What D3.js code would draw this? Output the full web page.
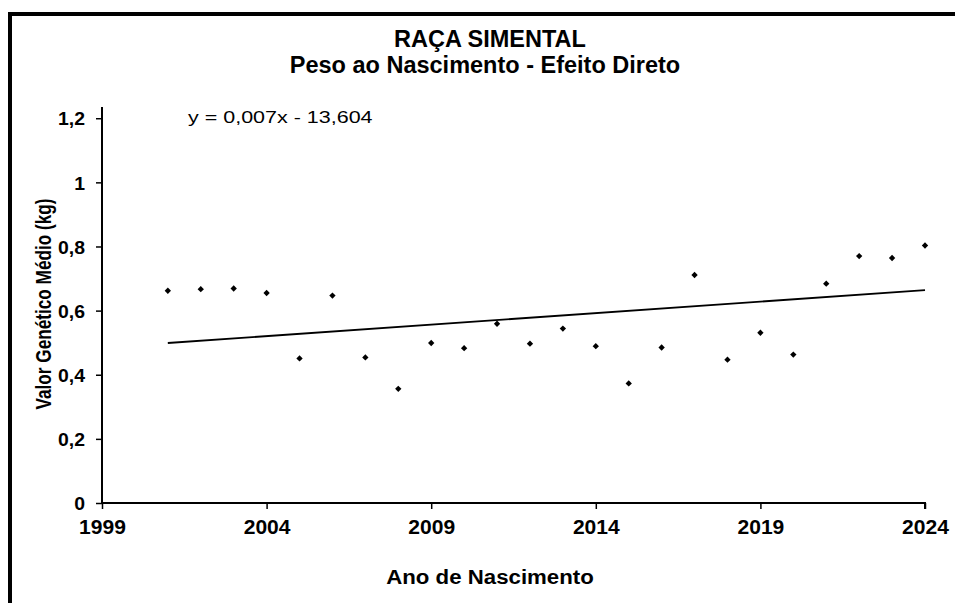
<!DOCTYPE html>
<html>
<head>
<meta charset="utf-8">
<script src="https://cdn.jsdelivr.net/npm/d3@7"></script>
<style>
  html, body { margin: 0; padding: 0; background: #fff; }
  svg { display: block; }
  text { font-family: "Liberation Sans", Arial, sans-serif; fill: #000; }
</style>
</head>
<body>
<svg id="chart" width="955" height="603"></svg>
<script>
// ---- data ----
const years = [2001, 2002, 2003, 2004, 2005, 2006, 2007, 2008, 2009, 2010, 2011, 2012,
               2013, 2014, 2015, 2016, 2017, 2018, 2019, 2020, 2021, 2022, 2023, 2024];
const values = [0.662, 0.667, 0.669, 0.655, 0.451, 0.647, 0.454, 0.356, 0.499, 0.483, 0.559, 0.497,
                0.544, 0.489, 0.373, 0.485, 0.711, 0.447, 0.531, 0.463, 0.684, 0.770, 0.764, 0.803];
const trendYears = [2001, 2024];
const trendValues = [0.499, 0.664];
const xTicks = [1999, 2004, 2009, 2014, 2019, 2024];
const yTicks = [0, 0.2, 0.4, 0.6, 0.8, 1, 1.2];
const yTickLabels = ["0", "0,2", "0,4", "0,6", "0,8", "1", "1,2"];
const xDomain = [1999, 2024];
const yDomain = [0, 1.235];
const titleLines = ["RAÇA SIMENTAL", "Peso ao Nascimento - Efeito Direto"];
const equation = "y = 0,007x - 13,604";
const xTitle = "Ano de Nascimento";
const yTitle = "Valor Genético Médio (kg)";

// ---- layout ----
const plot = { left: 102, right: 925, top: 107, bottom: 503 };
const svg = d3.select("#chart");

// frame
svg.append("path")
  .attr("d", "M10,603 L10,14 L955,14")
  .attr("fill", "none").attr("stroke", "#000").attr("stroke-width", 4);

const x = d3.scaleLinear().domain(xDomain).range([plot.left, plot.right]);
const y = d3.scaleLinear().domain(yDomain).range([plot.bottom, plot.top]);

// titles
svg.append("text")
  .attr("transform", `translate(490,47)`)
  .attr("text-anchor", "middle").attr("font-weight", "bold").attr("font-size", 23.5)
  .text(titleLines[0]);
svg.append("text")
  .attr("transform", `translate(485,73)`)
  .attr("text-anchor", "middle").attr("font-weight", "bold").attr("font-size", 23.5)
  .text(titleLines[1]);

// axes
const yAxis = d3.axisLeft(y).tickValues(yTicks).tickSize(6)
  .tickFormat((d, i) => yTickLabels[i]);
const gy = svg.append("g").attr("transform", `translate(${plot.left},0)`).call(yAxis);
gy.select(".domain").attr("d", `M0,${plot.top}V${plot.bottom}`).attr("stroke", "#000").attr("stroke-width", 2);
gy.selectAll(".tick line").attr("stroke", "#000").attr("stroke-width", 1.5);
gy.selectAll(".tick text")
  .attr("x", 0).attr("dy", "0.36em")
  .attr("transform", `translate(-17,0) scale(1.05,1)`)
  .attr("font-family", "Liberation Sans, Arial, sans-serif")
  .attr("font-size", 18.5).attr("font-weight", "bold").attr("fill", "#000");

const xAxis = d3.axisBottom(x).tickValues(xTicks).tickSize(6).tickFormat(d3.format("d"));
const gx = svg.append("g").attr("transform", `translate(0,${plot.bottom})`).call(xAxis);
gx.select(".domain").attr("d", `M${plot.left},0H${plot.right}V6`).attr("stroke", "#000").attr("stroke-width", 2);
gx.selectAll(".tick line").attr("stroke", "#000").attr("stroke-width", 1.5);
gx.selectAll(".tick text")
  .attr("y", 0).attr("dy", null)
  .attr("transform", `translate(0,31) scale(1.08,1)`)
  .attr("font-family", "Liberation Sans, Arial, sans-serif")
  .attr("font-size", 19.5).attr("font-weight", "bold").attr("fill", "#000");

// axis titles
svg.append("text")
  .attr("transform", `translate(490,584) scale(1.06,1)`)
  .attr("text-anchor", "middle").attr("font-weight", "bold").attr("font-size", 21)
  .text(xTitle);
svg.append("text")
  .attr("transform", `translate(51,304) scale(1.28,1) rotate(-90)`)
  .attr("text-anchor", "middle").attr("font-weight", "bold").attr("font-size", 17.2)
  .text(yTitle);

// trend line
svg.append("path")
  .datum(trendYears.map((d, i) => [d, trendValues[i]]))
  .attr("d", d3.line().x(d => x(d[0])).y(d => y(d[1])))
  .attr("fill", "none").attr("stroke", "#000").attr("stroke-width", 1.8);

// points
svg.append("g").selectAll("path")
  .data(years.map((d, i) => [d, values[i]]))
  .join("path")
  .attr("transform", d => `translate(${x(d[0])},${y(d[1])}) rotate(45)`)
  .attr("d", d3.symbol(d3.symbolSquare, 20))
  .attr("fill", "#000");

// equation
svg.append("text")
  .attr("transform", `translate(188,123) scale(1.28,1)`)
  .attr("font-size", 16.8)
  .text(equation);
</script>
</body>
</html>
